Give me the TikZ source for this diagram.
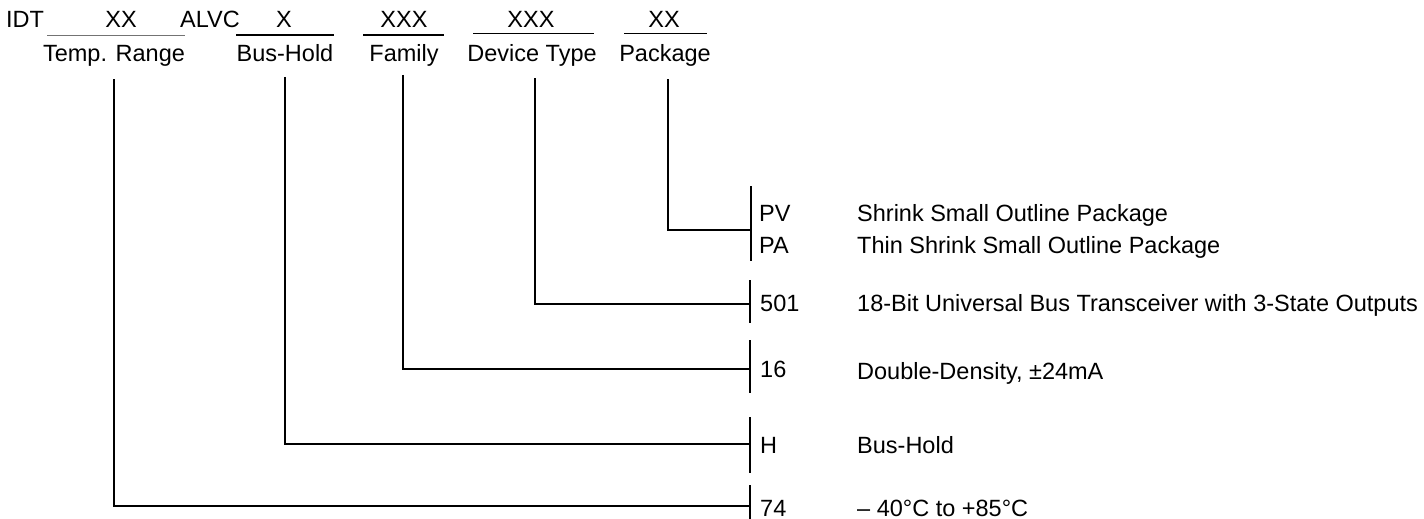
\documentclass[tikz,border=0pt]{standalone}
\usepackage{fontspec}
\setmainfont{Liberation Sans}
\begin{document}
\begin{tikzpicture}[x=1pt,y=-1pt,
  font=\fontsize{23.5}{27}\selectfont,
  txt/.style={inner sep=0pt, anchor=base},
  lft/.style={inner sep=0pt, anchor=base west},
  conn/.style={line width=1.8pt},
  barline/.style={line width=1.2pt},
  heavyline/.style={line width=2.4pt},
  lightline/.style={line width=1pt},
  greyline/.style={line width=1pt, black!55}]
\useasboundingbox (0,0) rectangle (1424,519);

% top row
\node[lft] (idt) at (6,28) {IDT};
\node[txt] (xx1) at (121,28) {XX};
\node[lft] (alvc) at (180,28) {ALVC};
\node[txt] (x1) at (284,28) {X};
\node[txt] (xxx1) at (404,28) {XXX};
\node[txt] (xxx2) at (531,28) {XXX};
\node[txt] (xx2) at (664,28) {XX};

% underlines
\coordinate (u1a) at (47,36);  \coordinate (u1b) at (185,36);
\coordinate (u2a) at (236,35); \coordinate (u2b) at (334,35);
\coordinate (u3a) at (363,35); \coordinate (u3b) at (444,35);
\coordinate (u4a) at (473,34); \coordinate (u4b) at (594,34);
\coordinate (u5a) at (624,34); \coordinate (u5b) at (707,34);
\draw[greyline] (u1a) -- (u1b);
\draw[heavyline] (u2a) -- (u2b);
\draw[heavyline] (u3a) -- (u3b);
\draw[lightline] (u4a) -- (u4b);
\draw[lightline] (u5a) -- (u5b);

% field labels
\node[txt] (temp) at (114,62) {Temp. Range};
\node[txt] (bush) at (285,62) {Bus-Hold};
\node[txt] (fam) at (404,62) {Family};
\node[txt] (dev) at (532,62) {Device Type};
\node[txt] (pkg) at (665,62) {Package};

% connector tops
\coordinate (tTemp) at (114,79);
\coordinate (tBus) at (285,77);
\coordinate (tFam) at (403,75);
\coordinate (tDev) at (535,78);
\coordinate (tPkg) at (668,79);

% right bars
\coordinate (bPkgA) at (751,186); \coordinate (bPkgB) at (751,261); \coordinate (bPkg) at (751,230);
\coordinate (bDevA) at (750,280); \coordinate (bDevB) at (750,323); \coordinate (bDev) at (750,304);
\coordinate (bFamA) at (750,340); \coordinate (bFamB) at (750,393); \coordinate (bFam) at (750,369);
\coordinate (bBusA) at (750,417); \coordinate (bBusB) at (750,473); \coordinate (bBus) at (750,444);
\coordinate (bTmpA) at (750,485); \coordinate (bTmpB) at (750,519); \coordinate (bTmp) at (750,506);
\draw[barline] (bPkgA) -- (bPkgB);
\draw[barline] (bDevA) -- (bDevB);
\draw[barline] (bFamA) -- (bFamB);
\draw[barline] (bBusA) -- (bBusB);
\draw[barline] (bTmpA) -- (bTmpB);

% connectors
\draw[conn] (tPkg) |- (bPkg);
\draw[conn] (tDev) |- (bDev);
\draw[conn] (tFam) |- (bFam);
\draw[conn] (tBus) |- (bBus);
\draw[conn] (tTemp) |- (bTmp);

% codes
\node[lft] (cPV) at (759,221) {PV};
\node[lft] (cPA) at (759,253) {PA};
\node[lft] (c501) at (760,311) {501};
\node[lft] (c16) at (760,377) {16};
\node[lft] (cH) at (760,453) {H};
\node[lft] (c74) at (760,516) {74};

% descriptions
\node[lft] (dPV) at (857,221) {Shrink Small Outline Package};
\node[lft] (dPA) at (857,253) {Thin Shrink Small Outline Package};
\node[lft] (d501) at (857,311) {18-Bit Universal Bus Transceiver with 3-State Outputs};
\node[lft] (d16) at (857,379) {Double-Density, ±24mA};
\node[lft] (dH) at (857,453) {Bus-Hold};
\node[lft] (d74) at (857,516) {– 40°C to +85°C};
\end{tikzpicture}
\end{document}
